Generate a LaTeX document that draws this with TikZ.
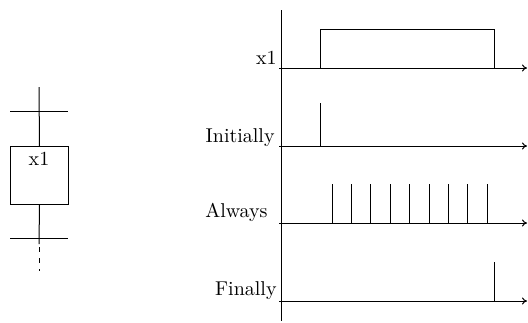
\documentclass[tikz,border=0pt]{standalone}
\usetikzlibrary{arrows.meta}
\begin{document}
\begin{tikzpicture}[x=0.5pt,y=-0.5pt,
  ln/.style={line width=0.5pt},
  axis/.style={line width=0.5pt,-{To[length=2.5pt,width=3.5pt]}},
  lbl/.style={anchor=base east,inner sep=0pt,font=\normalsize},
  stepbox/.style={draw,line width=0.5pt,minimum width=29pt,minimum height=29pt,anchor=north west,inner sep=0pt}]
\useasboundingbox (0,0) rectangle (528,322);
% GRAFCET step
\coordinate (top) at (39,87);
\coordinate (t1l) at (10,111);
\coordinate (t1r) at (68,111);
\coordinate (t2l) at (10,238);
\coordinate (t2r) at (68,238);
\coordinate (bot) at (39,244);
\coordinate (dsa) at (39,247);
\coordinate (dsb) at (39,271);
\node[stepbox] (step) at (10,146) {};
\node[anchor=base,inner sep=0pt] (steplbl) at (39,165) {x1};
\draw[ln] (top) -- (step.north);
\draw[ln] (t1l) -- (t1r);
\draw[ln] (step.south) -- (bot);
\draw[ln] (t2l) -- (t2r);
\draw[ln,dash pattern=on 2.5pt off 3pt] (dsa) -- (dsb);
% timing axes
\coordinate (vtop) at (281,10);
\coordinate (vbot) at (281,321);
\draw[ln] (vtop) -- (vbot);
\foreach \n/\y in {a/68,b/146,c/223,d/301}{
  \coordinate (s\n) at (279,\y);
  \coordinate (e\n) at (527,\y);
  \draw[axis] (s\n) -- (e\n);
}
\node[lbl] (lx) at (277,64) {x1};
\node[lbl] (li) at (275,142) {Initially};
\node[lbl] (la) at (268,217) {Always};
\node[lbl] (lf) at (277,295) {Finally};
% x1 signal
\draw[ln] (320,68) -- (320,29) -- (494,29) -- (494,68);
% Initially
\draw[ln] (320,146) -- (320,103);
% Always
\foreach \i in {0,...,8}{
  \draw[ln] ({332+19.4*\i},223) -- ({332+19.4*\i},184);
}
% Finally
\draw[ln] (494,301) -- (494,262);
\end{tikzpicture}
\end{document}
